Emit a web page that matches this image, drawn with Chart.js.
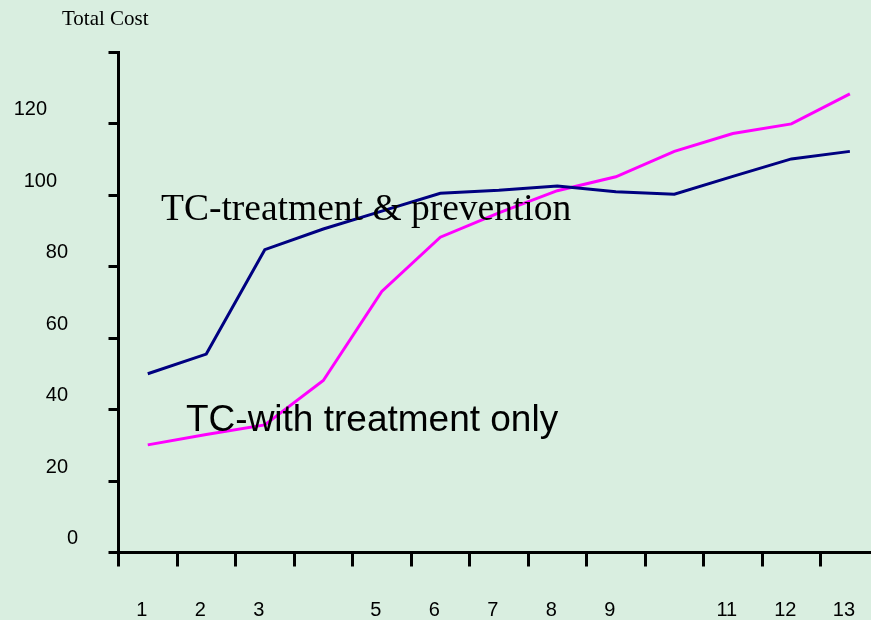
<!DOCTYPE html>
<html>
<head>
<meta charset="utf-8">
<script src="https://cdn.jsdelivr.net/npm/chart.js@4.4.0/dist/chart.umd.min.js"></script>
<style>
  html, body { margin: 0; padding: 0; overflow: hidden; background: #d9eee0; }
  #wrap { width: 893px; height: 620px; }
</style>
</head>
<body>
<div id="wrap"><canvas id="costChart" width="893" height="620"></canvas></div>
<script>
// x categories as printed under the axis (4 and 10 are not labelled)
const periods = ['1', '2', '3', '', '5', '6', '7', '8', '9', '', '11', '12', '13'];
const treatPrevent = [50, 55.5, 84.7, 90.5, 95.5, 100.5, 101.3, 102.5, 100.9, 100.2, 105.2, 110.1, 112.2];
const treatOnly = [30.1, 33, 35.7, 48.1, 73, 88.2, 95, 101.2, 105.1, 112.2, 117.2, 119.9, 128.3];
const yTickLabels = [0, 20, 40, 60, 80, 100, 120];

const yTitle = 'Total Cost';
const note1 = 'TC-treatment & prevention';
const note2 = 'TC-with treatment only';

// right edge of each y label (they are staggered in the original)
const yLabelRight = { 0: 78, 20: 68, 40: 68, 60: 68, 80: 68, 100: 57, 120: 47 };

const textPlugin = {
    id: 'textPlugin',
    afterDraw(chart) {
        const ctx = chart.ctx;
        const y = chart.scales.y;
        ctx.save();
        ctx.fillStyle = '#000';

        ctx.font = '20px "Liberation Sans", Arial, sans-serif';
        ctx.textAlign = 'right';
        ctx.textBaseline = 'middle';
        yTickLabels.forEach(v => {
            ctx.fillText(String(v), yLabelRight[v], y.getPixelForValue(v) - 14);
        });

        ctx.textAlign = 'left';
        ctx.textBaseline = 'alphabetic';
        ctx.font = '21px "Liberation Serif", "Times New Roman", serif';
        ctx.fillText(yTitle, 62, 25);

        ctx.font = '37.5px "Liberation Serif", "Times New Roman", serif';
        ctx.fillText(note1, 161, 220);

        ctx.font = '37px "Liberation Sans", Arial, sans-serif';
        ctx.fillText(note2, 186, 431);
        ctx.restore();
    }
};

new Chart(document.getElementById('costChart'), {
    type: 'line',
    data: {
        labels: periods,
        datasets: [
            {
                label: note1,
                data: treatPrevent,
                borderColor: '#000080',
                borderWidth: 3,
                pointRadius: 0,
                tension: 0,
                fill: false
            },
            {
                label: note2,
                data: treatOnly,
                borderColor: '#ff00ff',
                borderWidth: 3,
                pointRadius: 0,
                tension: 0,
                fill: false
            }
        ]
    },
    options: {
        responsive: false,
        animation: false,
        layout: { padding: { top: 52, right: 0, left: 0, bottom: 0 } },
        plugins: {
            legend: { display: false },
            tooltip: { enabled: false }
        },
        scales: {
            x: {
                offset: true,
                grid: {
                    offset: true,
                    drawOnChartArea: false,
                    drawTicks: true,
                    tickLength: 14,
                    color: '#000',
                    lineWidth: 3
                },
                border: { display: true, color: '#000', width: 3 },
                ticks: {
                    color: '#000',
                    font: { family: '"Liberation Sans", Arial, sans-serif', size: 20 },
                    padding: 32,
                    labelOffset: -6,
                    maxRotation: 0,
                    autoSkip: false
                },
                afterFit(scale) { scale.height = 67.5; }
            },
            y: {
                min: 0,
                max: 140,
                ticks: { stepSize: 20, display: false },
                grid: {
                    drawOnChartArea: false,
                    drawTicks: true,
                    tickLength: 10,
                    color: '#000',
                    lineWidth: 3
                },
                border: { display: true, color: '#000', width: 3 },
                afterFit(scale) { scale.width = 118.5; }
            }
        }
    },
    plugins: [textPlugin]
});
</script>
</body>
</html>
